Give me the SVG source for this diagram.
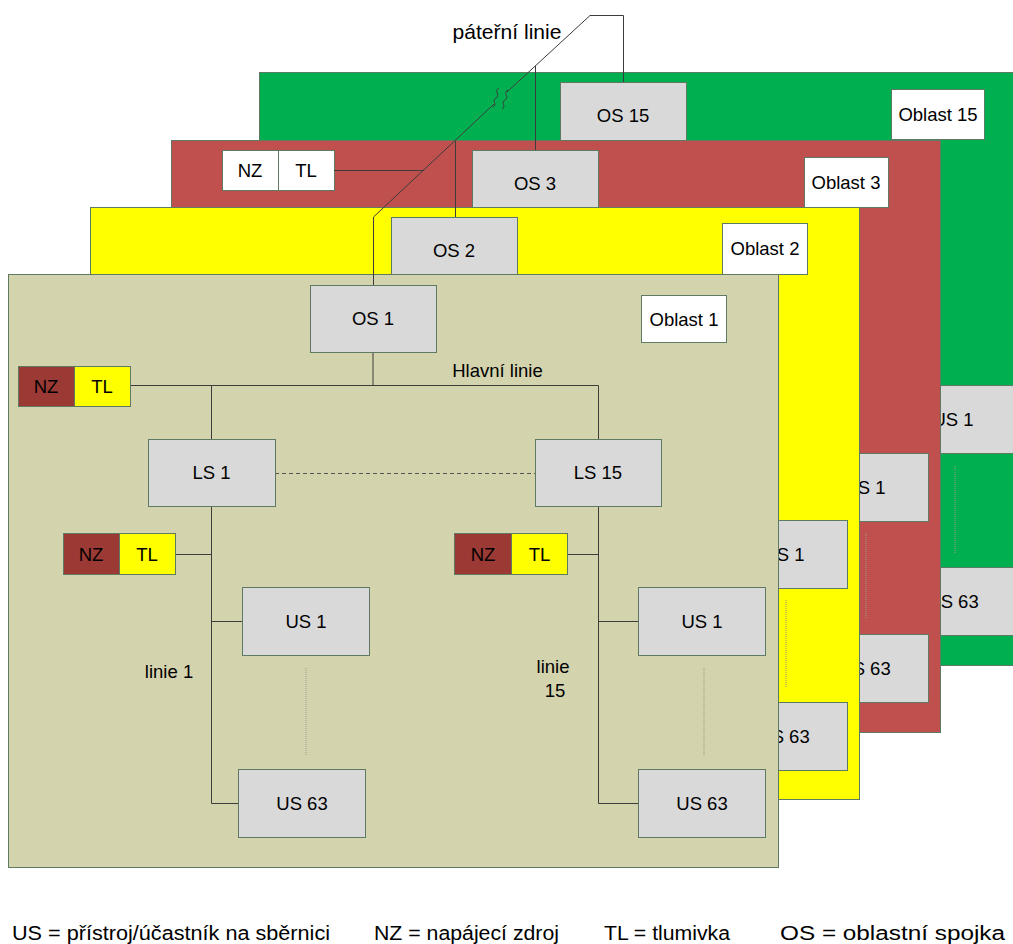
<svg xmlns="http://www.w3.org/2000/svg" width="1013" height="944" viewBox="0 0 1013 944">
<style>
text{font-family:"Liberation Sans",Arial,sans-serif;font-size:18.5px;fill:#000;text-anchor:middle}
.lay{stroke:#5f7a62;stroke-width:1}
.box{fill:#d9d9d9;stroke:#5f7a62;stroke-width:1}
.wbox{fill:#fff;stroke:#5f7a62;stroke-width:1}
.nz{fill:#9b3a35;stroke:#5f7a62;stroke-width:1}
.tl{fill:#ffff00;stroke:#5f7a62;stroke-width:1}
.ln{fill:none;stroke:#3c3c3c;stroke-width:1}
.dot{fill:none;stroke:#9a9a8a;stroke-width:1;stroke-dasharray:1 1}
.dash{fill:none;stroke:#555;stroke-width:1;stroke-dasharray:4 3}
.leg{font-size:20px;text-anchor:start}
</style>
<rect width="1013" height="944" fill="#fff"/>

<g id="oblast15">
<rect class="lay" x="259.5" y="72.5" width="770" height="593" fill="#00b050"/>
<rect class="box" x="560.5" y="82.5" width="126" height="67"/>
<text x="623" y="122">OS 15</text>
<rect class="wbox" x="891.5" y="89.5" width="93" height="50"/>
<text x="938" y="121">Oblast 15</text>
<rect class="box" x="889.5" y="385.5" width="127" height="68"/>
<text x="953" y="426">US 1</text>
<line class="dot" x1="955" y1="466" x2="955" y2="554"/>
<rect class="box" x="889.5" y="567.5" width="127" height="68"/>
<text x="953" y="608">US 63</text>
</g>

<g id="oblast3">
<rect class="lay" x="171.5" y="140.5" width="769" height="592" fill="#c0504d"/>
<rect class="box" x="472.5" y="150.5" width="126" height="67"/>
<text x="535" y="190">OS 3</text>
<rect class="wbox" x="804.5" y="157.5" width="84" height="50"/>
<text x="846" y="189">Oblast 3</text>
<rect class="wbox" x="222.5" y="150.5" width="56" height="40"/>
<rect class="wbox" x="278.5" y="150.5" width="56" height="40"/>
<text x="250" y="177">NZ</text>
<text x="306" y="177">TL</text>
<rect class="box" x="801.5" y="453.5" width="127" height="68"/>
<text x="865" y="494">US 1</text>
<line class="dot" x1="866" y1="533" x2="866" y2="619"/>
<rect class="box" x="801.5" y="634.5" width="127" height="68"/>
<text x="865" y="675">US 63</text>
</g>

<g id="oblast2">
<rect class="lay" x="90.5" y="207.5" width="769" height="592" fill="#ffff00"/>
<rect class="box" x="391.5" y="217.5" width="126" height="67"/>
<text x="454" y="257">OS 2</text>
<rect class="wbox" x="722.5" y="223.5" width="85" height="51"/>
<text x="765" y="255">Oblast 2</text>
<rect class="box" x="720.5" y="520.5" width="127" height="68"/>
<text x="784" y="561">US 1</text>
<line class="dot" x1="786" y1="600" x2="786" y2="688"/>
<rect class="box" x="720.5" y="702.5" width="127" height="68"/>
<text x="784" y="743">US 63</text>
</g>

<g id="oblast1">
<rect class="lay" x="8.5" y="274.5" width="770" height="593" fill="#d3d3ad"/>
<rect class="wbox" x="641.5" y="295.5" width="85" height="47"/>
<text x="684" y="326">Oblast 1</text>
</g>

<g id="connectors">
<path class="ln" d="M373,352V385.5M130,385.5H598.5V439M211.5,385.5V439M211.5,507V803.5H238M175,554.5H211.5M211.5,621.5H242M598.5,506V803.5H638M567,554.5H598.5M598.5,621.5H638"/>
<line class="dash" x1="275" y1="473.5" x2="535" y2="473.5"/>
<line class="dot" x1="306" y1="668" x2="306" y2="756"/>
<line class="dot" x1="704" y1="668" x2="704" y2="756"/>
<path class="ln" d="M623.5,82V15.5H590L507,92M494,104L373.5,217V285M535.5,66V150M455.5,141V217M334,170.5H424"/>
<path class="ln" d="M508,90C502,93 510,97 505,100C500,103 507,106 502,109M499,88C493,91 501,95 496,98C491,101 498,104 493,107"/>
</g>

<g id="os1"><rect class="box" x="310.5" y="285.5" width="126" height="67"/><text x="373" y="325">OS 1</text></g>
<g id="nztl1"><rect class="nz" x="18.5" y="366.5" width="56" height="40"/><rect class="tl" x="74.5" y="366.5" width="56" height="40"/><text x="46" y="393">NZ</text><text x="102" y="393">TL</text></g>
<g id="ls1"><rect class="box" x="148.5" y="439.5" width="127" height="67"/><text x="211.5" y="479">LS 1</text></g>
<g id="ls15"><rect class="box" x="535.5" y="439.5" width="126" height="67"/><text x="598" y="479">LS 15</text></g>
<g id="nztl2"><rect class="nz" x="63.5" y="533.5" width="56" height="41"/><rect class="tl" x="119.5" y="533.5" width="56" height="41"/><text x="91" y="560.5">NZ</text><text x="147" y="560.5">TL</text></g>
<g id="nztl3"><rect class="nz" x="454.5" y="533.5" width="57" height="41"/><rect class="tl" x="511.5" y="533.5" width="56" height="41"/><text x="483" y="560.5">NZ</text><text x="539.5" y="560.5">TL</text></g>
<g id="us1a"><rect class="box" x="242.5" y="587.5" width="127" height="68"/><text x="306" y="628">US 1</text></g>
<g id="us63a"><rect class="box" x="238.5" y="769.5" width="127" height="68"/><text x="302" y="810">US 63</text></g>
<g id="us1b"><rect class="box" x="638.5" y="587.5" width="127" height="68"/><text x="702" y="628">US 1</text></g>
<g id="us63b"><rect class="box" x="638.5" y="769.5" width="127" height="68"/><text x="702" y="810">US 63</text></g>

<g id="labels">
<text x="507" y="39" style="font-size:21px" textLength="109" lengthAdjust="spacingAndGlyphs">páteřní linie</text>
<text x="497.5" y="377">Hlavní linie</text>
<text x="169" y="678">linie 1</text>
<text x="553" y="673">linie</text>
<text x="555" y="697">15</text>
</g>

<g id="legend">
<text class="leg" x="12" y="940" textLength="318" lengthAdjust="spacingAndGlyphs">US = přístroj/účastník na sběrnici</text>
<text class="leg" x="374" y="940" textLength="185" lengthAdjust="spacingAndGlyphs">NZ = napájecí zdroj</text>
<text class="leg" x="604" y="940" textLength="126" lengthAdjust="spacingAndGlyphs">TL = tlumivka</text>
<text class="leg" x="780" y="940" textLength="225" lengthAdjust="spacingAndGlyphs">OS = oblastní spojka</text>
</g>
</svg>
